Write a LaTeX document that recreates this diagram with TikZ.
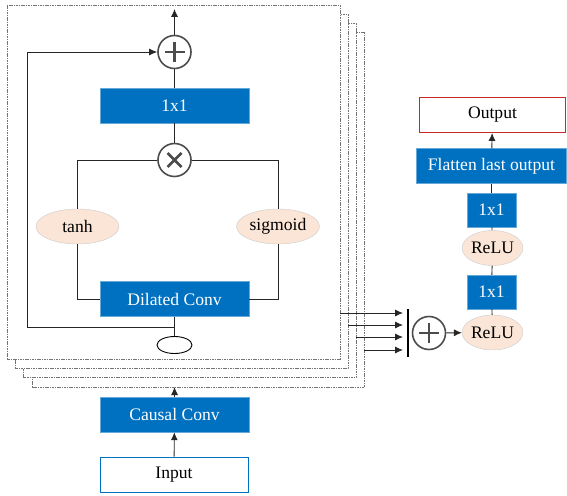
\documentclass[tikz,border=0pt]{standalone}
\usepackage{fontspec}
\setmainfont{Liberation Serif}
\usetikzlibrary{arrows.meta,shapes.geometric}

\definecolor{boxblue}{RGB}{0,112,192}
\definecolor{peach}{RGB}{251,229,214}
\definecolor{outred}{RGB}{200,40,40}

\tikzset{
  >={Latex[length=8pt,width=7pt]},
  blockbox/.style={draw=boxblue!60, fill=boxblue, text=white, minimum width=149pt,
    minimum height=35pt, inner sep=0pt},
  smallbox/.style={blockbox, minimum width=49pt, minimum height=34pt},
  actnode/.style={ellipse, draw=black!20, fill=peach, minimum width=83pt,
    minimum height=35pt, inner sep=0pt},
  opnode/.style={circle, draw=black!70, line width=1.6pt, minimum size=33pt, inner sep=0pt},
  plusop/.style={opnode, path picture={
      \draw[black!70, line width=2.6pt] (path picture bounding box.center) +(-10pt,0) -- +(10pt,0)
        (path picture bounding box.center) +(0,-10pt) -- +(0,10pt);}},
  timesop/.style={opnode, path picture={
      \draw[black!70, line width=2.6pt] (path picture bounding box.center) +(-7pt,-7pt) -- +(7pt,7pt)
        (path picture bounding box.center) +(-7pt,7pt) -- +(7pt,-7pt);}},
  stackframe/.style={draw=black!55, dash pattern=on 1.6pt off 0.8pt, line width=0.8pt, fill=white},
  wire/.style={draw=black!85, line width=0.9pt}
}

\begin{document}
\begin{tikzpicture}[x=1pt,y=-1pt,font=\fontsize{17.6}{20}\selectfont]
      \useasboundingbox (0,0) rectangle (567,495);

      % stacked residual blocks
      \foreach \d in {3,2,1,0}
        \draw[stackframe] (7+8.3*\d,5+9.3*\d) rectangle (340+8*\d,359+9.3*\d);

      % inside one block
      \node[plusop] (add) at (174.5,52) {};
      \node[blockbox] (conv1) at (174.5,105.5) {1x1};
      \node[timesop] (mult) at (174.5,160) {};
      \node[actnode] (tanh) at (77.5,226.5) {tanh};
      \node[actnode] (sigm) at (278,226.5) {sigmoid};
      \node[blockbox] (dil) at (174.5,299) {Dilated Conv};
      \node[ellipse, draw=black, line width=0.9pt, minimum width=35pt, minimum height=17pt] (res) at (174.5,345) {};
      \coordinate (top) at (174.5,9);
      \coordinate (skip) at (174.5,327);

      \draw[wire,->] (add) -- (top);
      \draw[wire] (conv1) -- (add);
      \draw[wire] (mult) -- (conv1);
      \draw[wire] (mult.west) -| (tanh.north);
      \draw[wire] (mult.east) -| (sigm.north);
      \draw[wire] (tanh.south) |- (dil.west);
      \draw[wire] (sigm.south) |- (dil.east);
      \draw[wire] (dil) -- (res);
      \draw[wire,->] (skip) -- (27,327) |- (add);

      % input side
      \node[blockbox] (causal) at (174.5,414.5) {Causal Conv};
      \node[draw=boxblue, line width=0.8pt, minimum width=148pt, minimum height=35pt, inner sep=0pt] (input) at (174,474.5) {Input};
      \coordinate (stackbot) at (174.5,387);
      \draw[wire,->] (input) -- (causal);
      \draw[wire,->] (causal) -- (stackbot);

      % skip outputs
      \foreach \i/\y in {0/313,1/325,2/337,3/350} {
        \coordinate (so\i) at (340+8*\i,\y);
        \coordinate (si\i) at (403,\y);
        \draw[wire,->] (so\i) -- (si\i);
      }
      \draw[black, line width=1.6pt] (408,309) -- (408,357);

      % output side
      \node[plusop] (sum) at (429,333) {};
      \node[actnode, minimum width=59pt] (relu1) at (492.5,332.5) {ReLU};
      \node[smallbox] (fc1) at (491.5,292) {1x1};
      \node[actnode, minimum width=59pt] (relu2) at (492.5,248) {ReLU};
      \node[smallbox] (fc2) at (491.5,210) {1x1};
      \node[blockbox, minimum width=150pt] (flat) at (491.5,166) {Flatten last output};
      \node[draw=outred, line width=0.9pt, minimum width=146pt, minimum height=35pt, inner sep=0pt] (output) at (492.5,115) {Output};

      \draw[wire,->] (sum) -- (relu1);
      \draw[wire] (relu1) -- (fc1);
      \draw[wire] (fc1) -- (relu2);
      \draw[wire] (relu2) -- (fc2);
      \draw[wire] (fc2) -- (flat);
      \draw[wire,->] (flat) -- (output);
    \end{tikzpicture}
\end{document}
